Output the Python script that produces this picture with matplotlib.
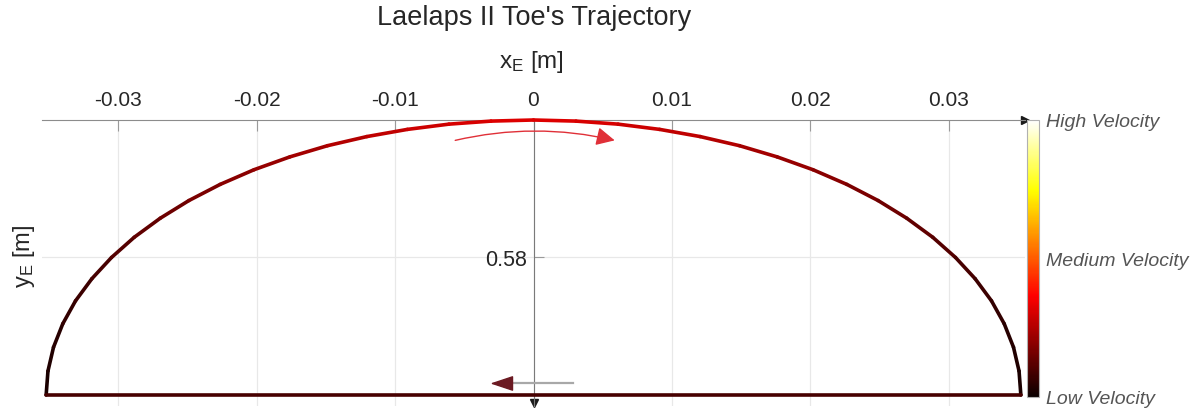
import matplotlib.pyplot as plt
import matplotlib as mpl
from matplotlib.collections import LineCollection
from matplotlib.patches import FancyArrowPatch

plt.rcParams['font.family'] = ['Liberation Sans', 'DejaVu Sans']
plt.rcParams['mathtext.fontset'] = 'custom'
plt.rcParams['mathtext.rm'] = 'Liberation Sans'
plt.rcParams['mathtext.it'] = 'Liberation Sans:italic'

# swing phase, left -> right
arc_x = [-0.03520, -0.03507, -0.03467, -0.03400, -0.03308, -0.03190, -0.03048,
         -0.02884, -0.02696, -0.02489, -0.02263, -0.02019, -0.01760, -0.01488,
         -0.01204, -0.00911, -0.00611, -0.00307, 0.0,
         0.00307, 0.00611, 0.00911, 0.01204, 0.01488, 0.01760, 0.02019, 0.02263,
         0.02489, 0.02696, 0.02884, 0.03048, 0.03190, 0.03308, 0.03400, 0.03467,
         0.03507, 0.03520]
arc_y = [0.59000, 0.58827, 0.58655, 0.58485, 0.58319, 0.58159, 0.58005,
         0.57859, 0.57721, 0.57593, 0.57476, 0.57370, 0.57277, 0.57196,
         0.57130, 0.57078, 0.57040, 0.57018, 0.57010,
         0.57018, 0.57040, 0.57078, 0.57130, 0.57196, 0.57277, 0.57370, 0.57476,
         0.57593, 0.57721, 0.57859, 0.58005, 0.58159, 0.58319, 0.58485, 0.58655,
         0.58827, 0.59000]
arc_v = [0.02, 0.03, 0.04, 0.05, 0.07, 0.08, 0.10,
         0.12, 0.14, 0.16, 0.18, 0.20, 0.22, 0.24,
         0.26, 0.28, 0.30, 0.31, 0.32,
         0.31, 0.30, 0.28, 0.26, 0.24, 0.22, 0.20, 0.18,
         0.16, 0.14, 0.12, 0.10, 0.08, 0.07, 0.05, 0.04,
         0.03, 0.02]
# stance phase, right -> left
stance_x = [0.0352, -0.0352]
stance_y = [0.5900, 0.5900]
stance_v = [0.16, 0.16]

x_ticks = [-0.03, -0.02, -0.01, 0, 0.01, 0.02, 0.03]
x_tick_labels = ['-0.03', '-0.02', '-0.01', '0', '0.01', '0.02', '0.03']
y_ticks = [0.58]
y_tick_labels = ['0.58']
cbar_ticks = [0.0, 0.5, 1.0]
cbar_labels = ['Low Velocity', 'Medium Velocity', 'High Velocity']

# direction arrows (annotation)
swing_arrow = [(-0.00585, 0.57162), (0.00606, 0.57162)]
stance_arrow = [(0.00282, 0.58917), (-0.00332, 0.58917)]

fig = plt.figure(figsize=(11.91, 4.10), dpi=100)
ax = fig.add_axes([42 / 1191, 3 / 410, 983 / 1191, 286 / 410])
ax.set_xlim(-0.0355, 0.0355)
ax.set_ylim(0.5908, 0.5701)

cmap = plt.get_cmap('hot')
norm = mpl.colors.Normalize(0, 1)

px = arc_x + stance_x[1:]
py = arc_y + stance_y[1:]
pv = arc_v + stance_v[1:]
segs = [[(px[i], py[i]), (px[i + 1], py[i + 1])] for i in range(len(px) - 1)]
cols = [(pv[i] + pv[i + 1]) / 2 for i in range(len(pv) - 1)]
lc = LineCollection(segs, array=cols, cmap=cmap, norm=norm, linewidth=2.6,
                    capstyle='round', joinstyle='round', zorder=3, clip_on=False)
ax.add_collection(lc)

# axes through origin-like layout
for s in ['right', 'bottom']:
    ax.spines[s].set_visible(False)
ax.spines['top'].set_color('#8c8c8c')
ax.spines['left'].set_color('#7a7a7a')
ax.spines['left'].set_position(('data', 0))
ax.xaxis.tick_top()
ax.set_xticks(x_ticks)
ax.set_xticklabels(x_tick_labels)
ax.set_yticks(y_ticks)
ax.set_yticklabels(y_tick_labels)
ax.tick_params(axis='x', direction='in', length=8, width=0.8, color='#9a9a9a',
               labelsize=15, labelcolor='#262626', pad=8)
ax.tick_params(axis='y', direction='in', length=7, width=0.8, color='#9a9a9a',
               labelsize=15.5, labelcolor='#262626', pad=5)
ax.grid(True, color='#e8e8e8', linewidth=0.9, zorder=0)
ax.set_axisbelow(True)
ax.plot([1], [1], marker='>', color='#1a1a1a', markersize=6, transform=ax.transAxes,
        clip_on=False)
ax.plot([0], [0.5906], marker='v', color='#1a1a1a', markersize=6, clip_on=False)

arr = FancyArrowPatch(swing_arrow[0], swing_arrow[1], connectionstyle='arc3,rad=-0.12',
                      arrowstyle='-|>,head_length=7,head_width=3.5', color='#e03038',
                      linewidth=1.0, mutation_scale=1.6, zorder=4)
ax.add_patch(arr)
ax.plot([stance_arrow[0][0], -0.0018], [stance_arrow[0][1], stance_arrow[1][1]],
        color='#a8a8a8', linewidth=1.6, zorder=4)
ax.annotate('', xy=stance_arrow[1], xytext=(-0.0014, stance_arrow[1][1]),
            arrowprops=dict(arrowstyle='-|>,head_length=1.2,head_width=0.4',
                            color='#6b1a22', linewidth=1.0, mutation_scale=12), zorder=5)

fig.text(534 / 1191, 1 - 18 / 410, "Laelaps II Toe's Trajectory", ha='center',
         va='center', fontsize=19.5, color='#262626')
fig.text(531 / 1191, 1 - 62 / 410, r'x$_\mathrm{E}$ [m]', ha='center', va='center',
         fontsize=17.5, color='#262626')
fig.text(24 / 1191, 1 - 256 / 410, r'y$_\mathrm{E}$ [m]', ha='center', va='center',
         rotation=90, fontsize=17, color='#262626')

cax = fig.add_axes([1027 / 1191, 12 / 410, 12 / 1191, 277 / 410])
cb = mpl.colorbar.ColorbarBase(cax, cmap=cmap, norm=norm, orientation='vertical')
cb.set_ticks(cbar_ticks)
cb.set_ticklabels(cbar_labels)
cb.outline.set_edgecolor('#b0b0b0')
cb.outline.set_linewidth(0.8)
cax.tick_params(length=0, pad=5, labelsize=14, labelcolor='#555555')
for t in cax.get_yticklabels():
    t.set_style('italic')

fig.savefig('out.png', dpi=100)
